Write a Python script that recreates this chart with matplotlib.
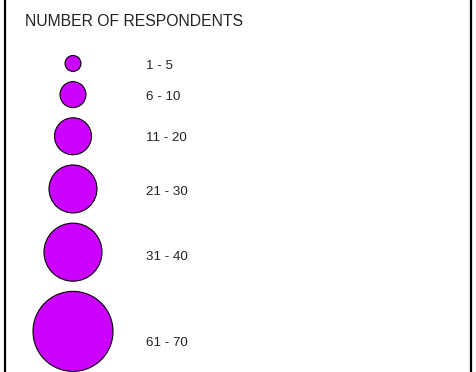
import numpy as np
import matplotlib
matplotlib.use("Agg")
import matplotlib.pyplot as plt

# ---- data ----
title = "NUMBER OF RESPONDENTS"
categories = ["1 - 5", "6 - 10", "11 - 20", "21 - 30", "31 - 40", "61 - 70"]
values = [2.6, 6.9, 14.0, 23.6, 34.5, 65.6]   # representative respondent counts (bubble area)

# ---- layout / style ----
W, H, DPI = 477, 372, 100
AREA_PER_UNIT = 50.6          # points^2 per respondent
CIRCLE_X = 73
LABEL_X = 146
TOP = 55.5
GAP = 10.2
LABEL_OFFSETS = [2.5, 2.5, 1.5, 3.2, 5.2, 11.5]
FILL = "#CC00FF"
TEXT = "#222222"

plt.rcParams['font.family'] = ['Liberation Sans', 'DejaVu Sans']

fig = plt.figure(figsize=(W / DPI, H / DPI), dpi=DPI)
ax = fig.add_axes([0, 0, 1, 1])
ax.set_xlim(0, W)
ax.set_ylim(H, 0)
ax.axis('off')

sizes = np.array(values) * AREA_PER_UNIT
diam_px = np.sqrt(sizes) / 72 * DPI
centers = []
y = TOP
for d in diam_px:
    centers.append(y + d / 2)
    y += d + GAP
centers = np.array(centers)

ax.scatter([CIRCLE_X] * len(values), centers, s=sizes, c=FILL,
           edgecolors="black", linewidths=0.8, zorder=3)

for cat, cy, off in zip(categories, centers, LABEL_OFFSETS):
    ax.text(LABEL_X, cy + off, cat, fontsize=9.6, color=TEXT,
            ha="left", va="center")

ax.text(25, 22, title, fontsize=11.3, color=TEXT, ha="left", va="center")

# border (cropped box: only left & right sides visible)
ax.plot([5, 5], [0, H], color="black", lw=1.6, solid_capstyle="butt")
ax.plot([471, 471], [0, H], color="black", lw=1.6, solid_capstyle="butt")

fig.savefig("out.png", dpi=DPI)
